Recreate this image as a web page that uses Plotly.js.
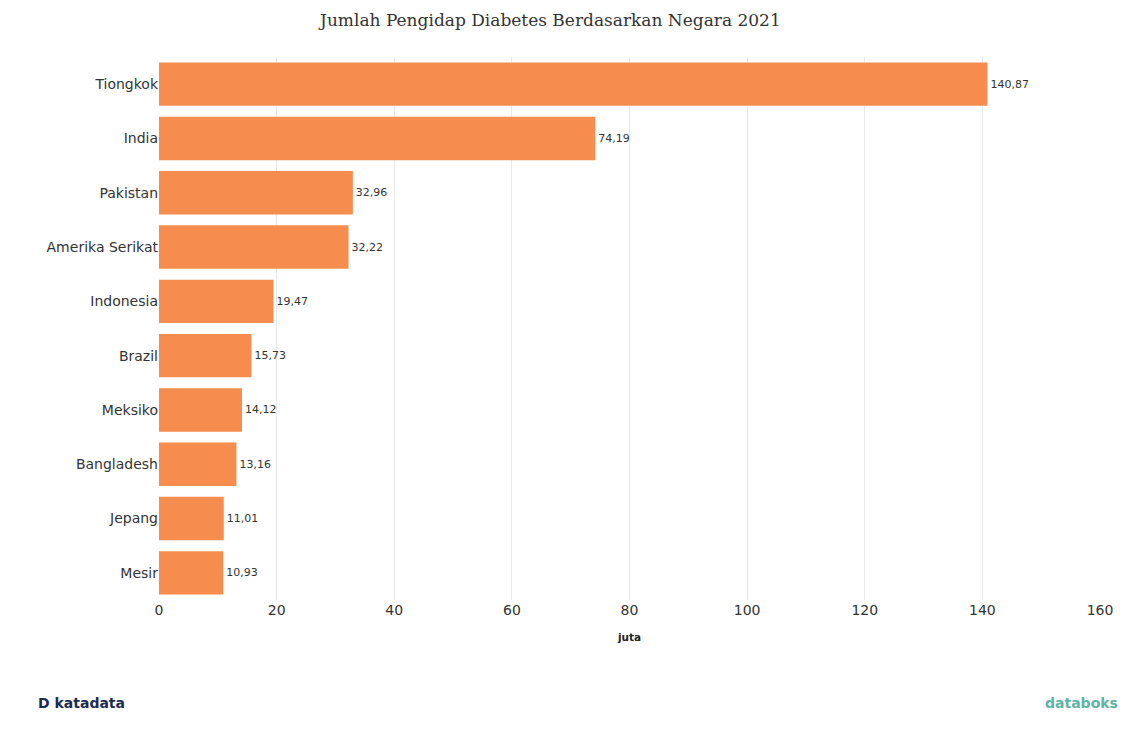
<!DOCTYPE html>
<html>
<head>
<meta charset="utf-8">
<script src="https://cdn.plot.ly/plotly-3.0.1.min.js"></script>
<style>html,body{margin:0;padding:0;background:#fff}</style>
</head>
<body>
<div id="chart" style="width:1121px;height:729px"></div>
<script>
const countries = ["Tiongkok","India","Pakistan","Amerika Serikat","Indonesia","Brazil","Meksiko","Bangladesh","Jepang","Mesir"];
const values = [140.87,74.19,32.96,32.22,19.47,15.73,14.12,13.16,11.01,10.93];
const valueLabels = ["140,87","74,19","32,96","32,22","19,47","15,73","14,12","13,16","11,01","10,93"];
const xTicks = [0,20,40,60,80,100,120,140,160];

Plotly.newPlot("chart", [{
  type: "bar",
  orientation: "h",
  y: countries,
  x: values,
  text: valueLabels,
  textposition: "outside",
  cliponaxis: false,
  textfont: {family: "DejaVu Sans", size: 11, color: "#333"},
  marker: {color: "#f68c4e"},
  width: 0.8,
  hoverinfo: "x+y"
}], {
  width: 1121,
  height: 729,
  margin: {l: 159, r: 21, t: 57, b: 129},
  paper_bgcolor: "#fff",
  plot_bgcolor: "#fff",
  showlegend: false,
  title: {
    text: "Jumlah Pengidap Diabetes Berdasarkan Negara 2021",
    font: {family: "DejaVu Serif", size: 17, color: "#333"},
    x: 0.491, xanchor: "center", y: 0.973, yanchor: "middle"
  },
  xaxis: {
    range: [0,160],
    tickvals: xTicks,
    ticktext: xTicks.map(String),
    showgrid: true,
    gridcolor: "#e8e8e8",
    zeroline: false,
    showline: false,
    ticks: "",
    tickfont: {family: "DejaVu Sans", size: 14, color: "#333"},
    title: {text: "<b>juta</b>", font: {family: "DejaVu Sans", size: 10.5, color: "#222"}, standoff: 16}
  },
  yaxis: {
    autorange: "reversed",
    showgrid: false,
    zeroline: false,
    showline: false,
    ticks: "",
    ticklen: 0,
    tickfont: {family: "DejaVu Sans", size: 14, color: "#333"},
    automargin: false
  },
  annotations: [
    {xref:"paper",yref:"paper",x:-0.131,y:-0.189,xanchor:"left",yanchor:"middle",showarrow:false,
     text:"<b>D katadata</b>",font:{family:"DejaVu Sans",size:14,color:"#1d2b4f"}},
    {xref:"paper",yref:"paper",x:1.021,y:-0.189,xanchor:"right",yanchor:"middle",showarrow:false,
     text:"<b>databoks</b>",font:{family:"DejaVu Sans",size:14,color:"#5fb3a8"}}
  ]
}, {displayModeBar: false});
</script>
</body>
</html>
